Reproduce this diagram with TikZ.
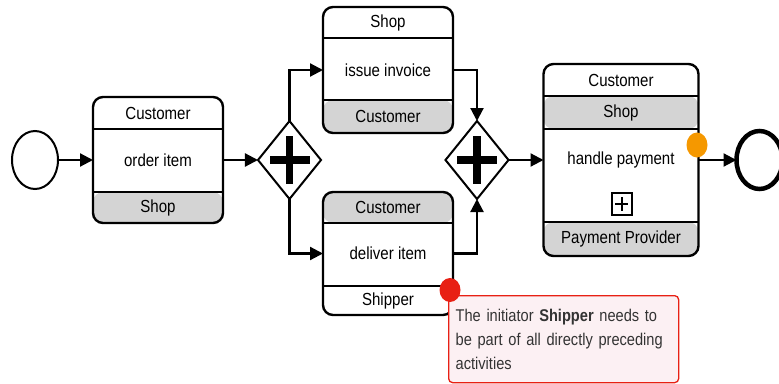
\documentclass[tikz,border=0pt]{standalone}
\usepackage{fontspec}
\setmainfont{Liberation Sans}[FakeStretch=0.86]
\usetikzlibrary{positioning, shapes.geometric, arrows.meta}
\definecolor{lanegray}{RGB}{212,212,212}
\definecolor{warnorange}{RGB}{245,152,0}
\definecolor{errred}{RGB}{232,32,20}
\definecolor{notefill}{RGB}{252,240,243}
\definecolor{notetext}{RGB}{51,51,51}

\begin{document}
\begin{tikzpicture}[x=1pt, y=-1pt, font=\fontsize{17.5}{21}\selectfont,
  task/.style={draw, line width=2.4pt, rounded corners=10pt, minimum width=130pt, inner sep=0pt, outer sep=0pt},
  gray head/.style={path picture={\fill[lanegray] (path picture bounding box.north west) rectangle ([yshift=-#1]path picture bounding box.north east);}},
  gray foot/.style={path picture={\fill[lanegray] (path picture bounding box.south west) rectangle ([yshift=#1]path picture bounding box.south east);}},
  lane/.style={inner sep=0pt},
  lanesep/.style={line width=2.4pt},
  gate/.style={diamond, draw, line width=2pt, minimum width=63pt, minimum height=78pt, inner sep=0pt, outer sep=0pt,
    path picture={\fill ([xshift=-20pt,yshift=-3.8pt]path picture bounding box.center) rectangle ([xshift=20pt,yshift=3.8pt]path picture bounding box.center);
      \fill ([xshift=-3.8pt,yshift=-24pt]path picture bounding box.center) rectangle ([xshift=3.8pt,yshift=24pt]path picture bounding box.center);}},
  event/.style={ellipse, draw, minimum width=46pt, minimum height=58pt, inner sep=0pt, outer sep=0pt},
  flow/.style={line width=2.2pt, -{Triangle[length=13pt,width=13pt]}},
  badge/.style={ellipse, minimum width=21pt, minimum height=25pt, inner sep=0pt},
  note/.style={draw=errred, line width=1.3pt, fill=notefill, rounded corners=4pt, text=notetext, align=left,
    text width=216pt, inner xsep=7pt, minimum height=87pt, font=\fontsize{17}{24}\selectfont}
]
\useasboundingbox (0,0) rectangle (779,383);

% start and first task
\node[event, line width=2pt] (start) at (35,160) {};
\node[task, gray foot=31pt, minimum height=126pt, right=35pt of start] (order) {order item};
\node[lane] (order-head) at ([yshift=-16pt]order.north) {Customer};
\node[lane] (order-foot) at ([yshift=15.5pt]order.south) {Shop};
\draw[lanesep] ([yshift=-32pt]order.north west) -- ([yshift=-32pt]order.north east);
\draw[lanesep] ([yshift=31pt]order.south west) -- ([yshift=31pt]order.south east);

\node[gate, right=35pt of order] (g1) {};

% parallel branch
\node[task, gray foot=33pt, minimum height=126pt] (inv) at (388,70) {issue invoice};
\node[lane] (inv-head) at ([yshift=-15.5pt]inv.north) {Shop};
\node[lane] (inv-foot) at ([yshift=16.5pt]inv.south) {Customer};
\draw[lanesep] ([yshift=-31pt]inv.north west) -- ([yshift=-31pt]inv.north east);
\draw[lanesep] ([yshift=33pt]inv.south west) -- ([yshift=33pt]inv.south east);

\node[task, gray head=31pt, minimum height=123pt] (deliver) at (388,253.5) {deliver item};
\node[lane] (deliver-head) at ([yshift=-15.5pt]deliver.north) {Customer};
\node[lane] (deliver-foot) at ([yshift=14.5pt]deliver.south) {Shipper};
\draw[lanesep] ([yshift=-31pt]deliver.north west) -- ([yshift=-31pt]deliver.north east);
\draw[lanesep] ([yshift=29pt]deliver.south west) -- ([yshift=29pt]deliver.south east);

\node[gate] (g2) at (477,160) {};

% sub-choreography
\node[task, minimum width=155pt, minimum height=192pt, right=35pt of g2,
  path picture={\fill[lanegray] ([yshift=-32pt]path picture bounding box.north west) rectangle ([yshift=-65pt]path picture bounding box.north east);
    \fill[lanegray] (path picture bounding box.south west) rectangle ([yshift=34pt]path picture bounding box.south east);}] (hp) {handle payment};
\node[lane] (hp-head) at ([yshift=-16pt]hp.north) {Customer};
\node[lane] (hp-head2) at ([yshift=-48.5pt]hp.north) {Shop};
\node[lane] (hp-foot) at ([yshift=17pt]hp.south) {Payment Provider};
\draw[lanesep] ([yshift=-32pt]hp.north west) -- ([yshift=-32pt]hp.north east);
\draw[lanesep] ([yshift=-65pt]hp.north west) -- ([yshift=-65pt]hp.north east);
\draw[lanesep] ([yshift=34pt]hp.south west) -- ([yshift=34pt]hp.south east);
\node[draw, line width=2pt, minimum width=20pt, minimum height=22pt, inner sep=0pt] (hp-sub) at (621.5,203.5) {};
\draw[line width=2pt] ([xshift=-6.5pt]hp-sub.center) -- ([xshift=6.5pt]hp-sub.center);
\draw[line width=2pt] ([yshift=-7pt]hp-sub.center) -- ([yshift=7pt]hp-sub.center);
\node[badge, fill=warnorange] (hp-warn) at (697,145) {};

\node[event, line width=4.5pt, right=38pt of hp] (stop) {};

% sequence flows
\draw[flow] (start) -- (order);
\draw[flow] (order) -- (g1);
\draw[flow] (g1.north) |- (inv);
\draw[flow] (g1.south) |- (deliver);
\draw[flow] (inv) -| (g2.north);
\draw[flow] (deliver) -| (g2.south);
\draw[flow] (g2) -- (hp);
\draw[flow] (hp) -- (stop);

% error message
\node[note, anchor=north west] (msg) at (448,295) {The initiator \textbf{Shipper} needs to\\be part of all directly preceding\\activities};
\node[badge, fill=errred, minimum height=24pt] (err) at (450,290) {};
\end{tikzpicture}
\end{document}
